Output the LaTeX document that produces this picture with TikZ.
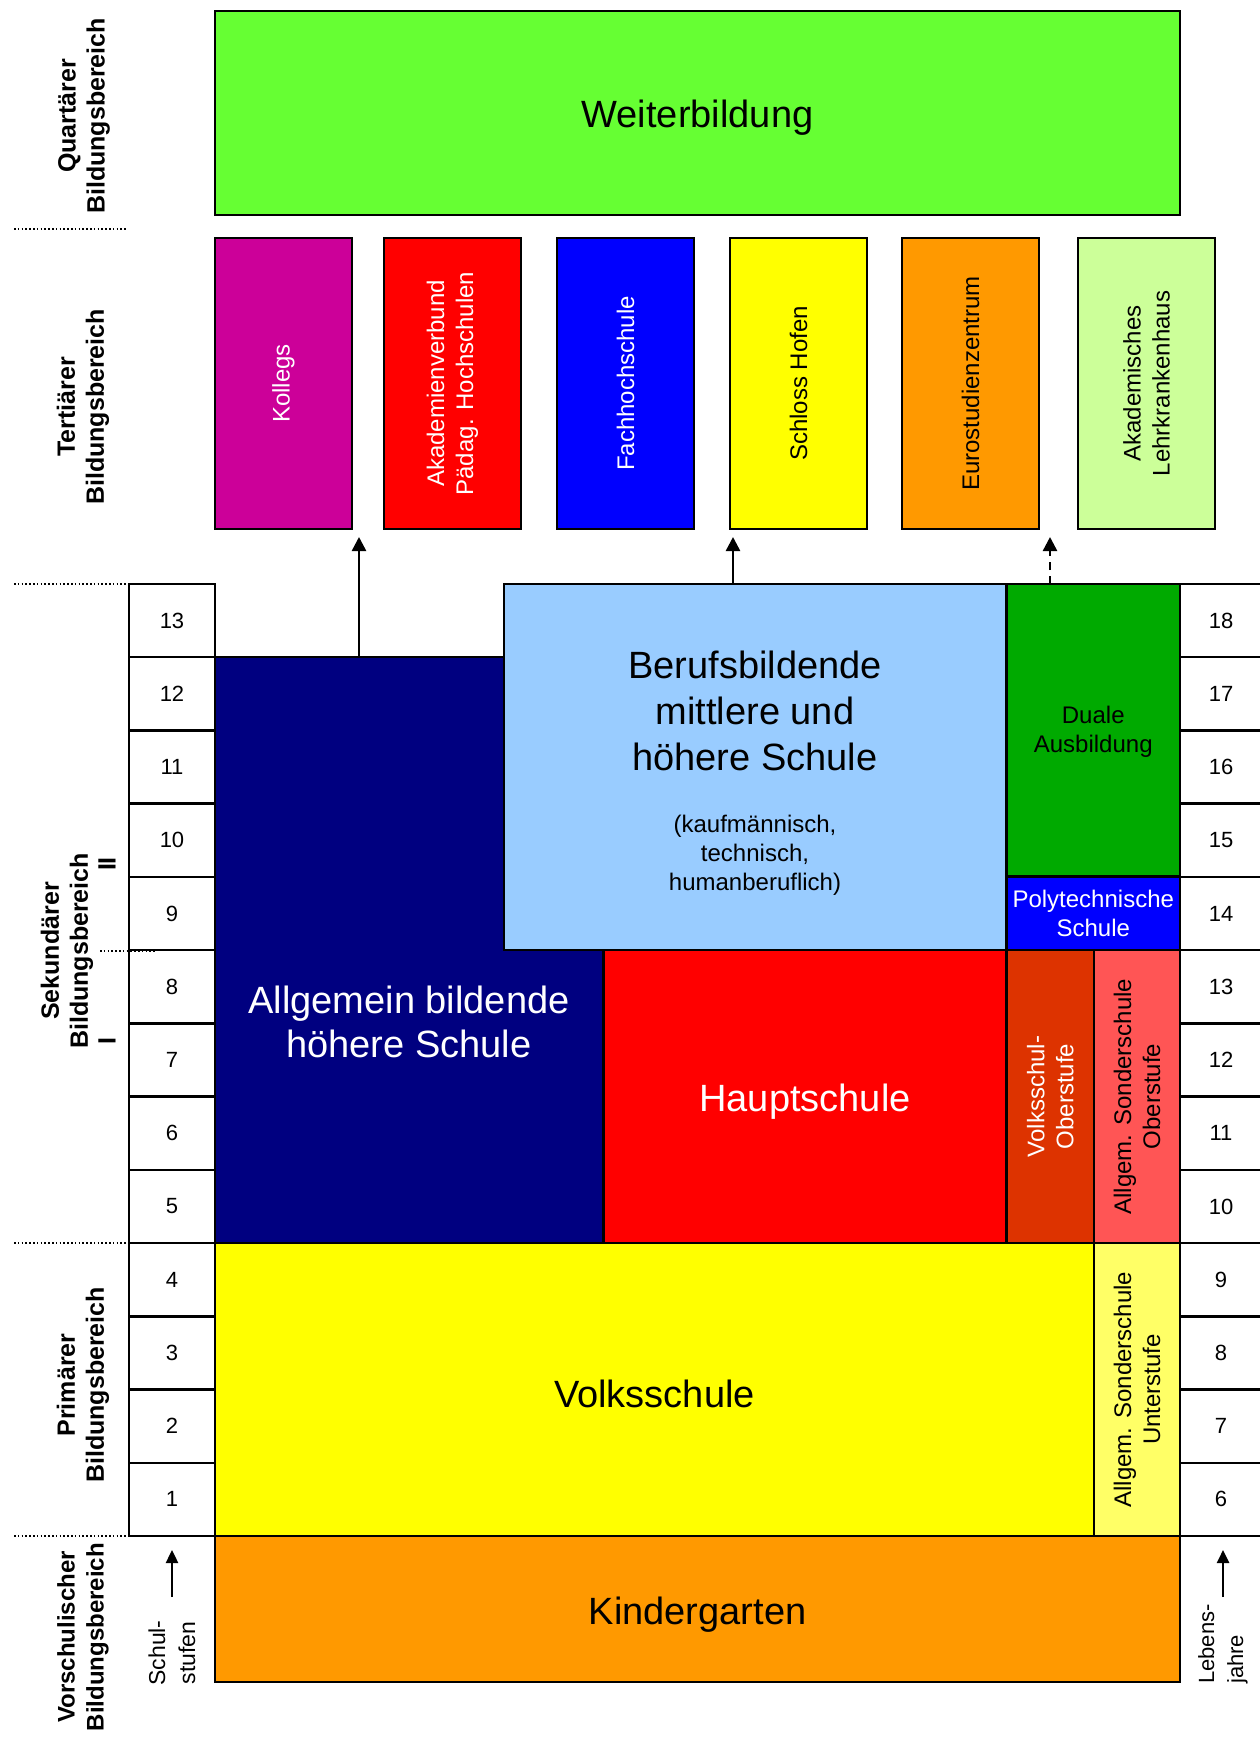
\documentclass[tikz,border=0pt]{standalone}
\usepackage{fontspec}
\setmainfont{Liberation Sans}
\usetikzlibrary{arrows.meta}
\definecolor{cWeiter}{HTML}{66FF33}
\definecolor{cKolleg}{HTML}{CC0099}
\definecolor{cAkad}{HTML}{FF0000}
\definecolor{cFach}{HTML}{0000FF}
\definecolor{cSchloss}{HTML}{FFFF00}
\definecolor{cEuro}{HTML}{FF9900}
\definecolor{cLehr}{HTML}{CCFF99}
\definecolor{cAHS}{HTML}{000080}
\definecolor{cBMHS}{HTML}{99CCFF}
\definecolor{cDual}{HTML}{00AA00}
\definecolor{cPoly}{HTML}{0000FF}
\definecolor{cHS}{HTML}{FF0000}
\definecolor{cVSO}{HTML}{DD3300}
\definecolor{cASO}{HTML}{FF5555}
\definecolor{cVS}{HTML}{FFFF00}
\definecolor{cASU}{HTML}{FFFF66}
\definecolor{cKG}{HTML}{FF9900}
\begin{document}
\begin{tikzpicture}[x=1pt,y=-1pt,
  box/.style={draw=black, line width=2.5pt, inner sep=0pt, outer sep=0pt, anchor=center, align=center},
  cell/.style={box, fill=white, minimum width=86pt, minimum height=73.23pt, font=\fontsize{22}{26}\selectfont},
  rcell/.style={box, fill=white, minimum width=82pt, minimum height=73.23pt, font=\fontsize{22}{26}\selectfont},
  bigtxt/.style={inner sep=0pt, align=center, font=\fontsize{38}{46}\selectfont},
  midtxt/.style={inner sep=0pt, align=center, font=\fontsize{24}{29}\selectfont},
  vtxt/.style={midtxt, rotate=90},
  lab/.style={inner sep=0pt, align=center, rotate=90, font=\bfseries\fontsize{25}{29}\selectfont},
  arr/.style={line width=2.5pt, -{Triangle[width=14pt,length=14pt]}},
  dots/.style={line width=1.6pt, dash pattern=on 1.6pt off 2.2pt}]
\useasboundingbox[fill=white] (0,0) rectangle (1259,1737);

% Quartaer
\node[box, fill=cWeiter, minimum width=965pt, minimum height=204pt] (weiter) at (697.5,113) {};
\node[bigtxt] (weiterT) at (697.5,118) {Weiterbildung};

% Tertiaer
\node[box, fill=cKolleg, minimum width=137pt, minimum height=291pt] (kolleg) at (283.5,383.5) {};
\node[vtxt, text=white] (kollegT) at (kolleg) {Kollegs};
\node[box, fill=cAkad, minimum width=137pt, minimum height=291pt] (akad) at (452.5,383.5) {};
\node[vtxt, text=white] (akadT) at (akad) {Akademienverbund\\Pädag. Hochschulen};
\node[box, fill=cFach, minimum width=137pt, minimum height=291pt] (fach) at (625.5,383.5) {};
\node[vtxt, text=white] (fachT) at (fach) {Fachhochschule};
\node[box, fill=cSchloss, minimum width=137pt, minimum height=291pt] (schloss) at (798.5,383.5) {};
\node[vtxt] (schlossT) at (schloss) {Schloss Hofen};
\node[box, fill=cEuro, minimum width=137pt, minimum height=291pt] (euro) at (970.5,383.5) {};
\node[vtxt] (euroT) at (euro) {Eurostudienzentrum};
\node[box, fill=cLehr, minimum width=137pt, minimum height=291pt] (lehr) at (1146.5,383.5) {};
\node[vtxt] (lehrT) at (lehr) {Akademisches\\Lehrkrankenhaus};

% Schulstufen / Lebensjahre
\foreach \n in {1,...,13}{
  \pgfmathsetmacro\yc{584+(13.5-\n)*73.2308}
  \pgfmathtruncatemacro\age{\n+5}
  \node[cell] (L\n) at (172,\yc) {\n};
  \node[rcell] (R\n) at (1221,\yc) {\age};
}

% Sekundaer
\node[box, fill=cAHS, minimum width=388.5pt, minimum height=585.8pt] (ahs) at (409.25,950.1) {};
\node[bigtxt, text=white, font=\fontsize{38}{44}\selectfont] (ahsT) at (409,1022) {Allgemein bildende\\höhere Schule};
\node[box, fill=cBMHS, minimum width=502.7pt, minimum height=366pt] (bmhs) at (755.15,767) {};
\node[bigtxt] (bmhsT) at (755,711) {Berufsbildende\\mittlere und\\höhere Schule};
\node[midtxt] (bmhsS) at (755,855) {(kaufmännisch,\\technisch,\\humanberuflich)};
\node[box, fill=cDual, minimum width=173.5pt, minimum height=292.7pt] (dual) at (1093.25,730.35) {};
\node[midtxt] (dualT) at (1093.25,732) {Duale\\Ausbildung};
\node[box, fill=cPoly, minimum width=173.5pt, minimum height=73.3pt] (poly) at (1093.25,913.35) {};
\node[midtxt, text=white] (polyT) at (poly) {Polytechnische\\Schule};
\node[box, fill=cHS, minimum width=403pt, minimum height=293pt] (hs) at (805,1096.5) {};
\node[bigtxt, text=white] (hsT) at (805,1101.5) {Hauptschule};
\node[box, fill=cVSO, minimum width=87.5pt, minimum height=293pt] (vso) at (1050.25,1096.5) {};
\node[vtxt, text=white] (vsoT) at (vso) {Volksschul-\\Oberstufe};
\node[box, fill=cASO, minimum width=86pt, minimum height=293pt] (aso) at (1137,1096.5) {};
\node[vtxt] (asoT) at (aso) {Allgem. Sonderschule\\Oberstufe};

% Primaer
\node[box, fill=cVS, minimum width=879pt, minimum height=293pt] (vs) at (654.5,1389.5) {};
\node[bigtxt] (vsT) at (654.5,1393.5) {Volksschule};
\node[box, fill=cASU, minimum width=86pt, minimum height=293pt] (asu) at (1137,1389.5) {};
\node[vtxt] (asuT) at (asu) {Allgem. Sonderschule\\Unterstufe};

% Vorschule
\node[box, fill=cKG, minimum width=965pt, minimum height=146pt] (kg) at (697.5,1609) {};
\node[bigtxt] (kgT) at (697.5,1615) {Kindergarten};

% arrows to tertiary
\coordinate (t1) at (359,537);
\coordinate (t2) at (733,537);
\coordinate (t3) at (1050,537);
\draw[arr] (t1 |- ahs.north) -- (t1);
\draw[arr] (t2 |- bmhs.north) -- (t2);
\draw[arr, dash pattern=on 8pt off 6pt] (t3 |- dual.north) -- (t3);

% side labels
\node[lab] (lq) at (84,116) {Quartärer\\Bildungsbereich};
\node[lab] (lt) at (83,407) {Tertiärer\\Bildungsbereich};
\node[lab] (ls) at (67,951) {Sekundärer\\Bildungsbereich};
\node[lab] (ls2) at (107,864) {II};
\node[lab] (ls1) at (107,1041) {I};
\node[lab] (lp) at (83,1385) {Primärer\\Bildungsbereich};
\node[lab, font=\bfseries\fontsize{24}{29}\selectfont] (lv) at (83,1637) {Vorschulischer\\Bildungsbereich};

% dotted separators
\coordinate (d1a) at (14,229); \coordinate (d1b) at (127,229);
\coordinate (d2a) at (14,584);
\coordinate (d3a) at (100,951); \coordinate (d3b) at (155,951);
\coordinate (d4a) at (14,1243);
\coordinate (d5a) at (14,1536);
\draw[dots] (d1a) -- (d1b);
\draw[dots] (d2a) -- (d2a -| L13.west);
\draw[dots] (d3a) -- (d3b);
\draw[dots] (d4a) -- (d4a -| L1.west);
\draw[dots] (d5a) -- (d5a -| L1.west);

% Schulstufen / Lebensjahre captions
\node[inner sep=0pt, align=center, rotate=90, font=\fontsize{23}{30}\selectfont] (schulT) at (172,1653) {Schul-\\stufen};
\node[inner sep=0pt, align=left, rotate=90, anchor=west, font=\fontsize{22}{29}\selectfont] (lebT) at (1223,1684) {Lebens-\\jahre};
\coordinate (sa) at (172,1550);
\coordinate (la) at (1223,1550);
\draw[line width=2.5pt, -{Triangle[width=12pt,length=13pt]}] (172,1597) -- (sa);
\draw[line width=2.5pt, -{Triangle[width=12pt,length=13pt]}] (1223,1597) -- (la);
\end{tikzpicture}
\end{document}
